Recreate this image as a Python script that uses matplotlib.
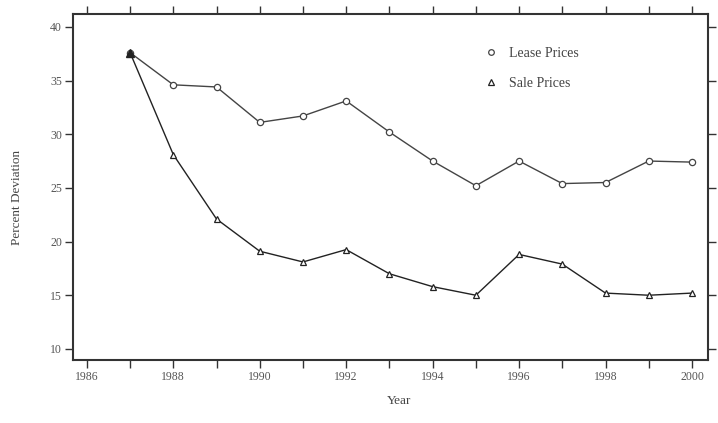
import matplotlib
matplotlib.use("Agg")
import matplotlib.pyplot as plt

years = [1987, 1988, 1989, 1990, 1991, 1992, 1993, 1994, 1995, 1996, 1997, 1998, 1999, 2000]
lease = [37.6, 34.6, 34.4, 31.1, 31.7, 33.1, 30.2, 27.5, 25.2, 27.5, 25.4, 25.5, 27.5, 27.4]
sale = [37.6, 28.1, 22.1, 19.1, 18.1, 19.25, 17.0, 15.8, 15.0, 18.8, 17.9, 15.2, 15.0, 15.2]
xticks = [1986, 1988, 1990, 1992, 1994, 1996, 1998, 2000]
yticks = [10, 15, 20, 25, 30, 35, 40]

plt.rcParams['font.family'] = ['Liberation Serif', 'DejaVu Serif']

fig = plt.figure(figsize=(7.18, 4.23), dpi=100)
ax = fig.add_axes([0.1017, 0.149, 0.8843, 0.818])

ax.plot(years, lease, color='#444444', lw=1.0, marker='o', ms=4.5, mfc='white',
        mec='#444444', mew=0.9, label='Lease Prices')
ax.plot(years, sale, color='#222222', lw=1.0, marker='^', ms=4.5, mfc='white',
        mec='#222222', mew=0.9, label='Sale Prices')
ax.plot([years[0]], [sale[0]], marker='^', ms=6, color='#222222', ls='none')

ax.set_xlim(1985.68, 2000.37)
ax.set_ylim(8.97, 41.2)
ax.set_xticks(xticks)
ax.set_xticks(list(range(1987, 2000, 2)), minor=True)
ax.set_yticks(yticks)
ax.set_xticklabels([str(x) for x in xticks], fontsize=8.5, color='#555555')
ax.set_yticklabels([str(y) for y in yticks], fontsize=8.5, color='#555555')
ax.tick_params(which='both', direction='out', top=True, right=True, length=6, width=1.0,
               color='#333333', labeltop=False, labelright=False, pad=2)
for s in ax.spines.values():
    s.set_linewidth(1.5)
    s.set_color('#333333')

ax.set_xlabel('Year', fontsize=9.5, color='#444444')
ax.set_ylabel('Percent Deviation', fontsize=9.5, color='#444444')
ax.xaxis.set_label_coords(0.513, -0.102)
ax.yaxis.set_label_coords(-0.079, 0.471)

leg = ax.legend(loc='upper left', bbox_to_anchor=(0.632, 0.94), frameon=False, fontsize=10,
                handlelength=0.6, handletextpad=1.0, labelspacing=1.2, markerscale=0.9)
for t in leg.get_texts():
    t.set_color('#444444')
for h in leg.legend_handles:
    h.set_linestyle('none')

fig.savefig('out.png', dpi=100)
